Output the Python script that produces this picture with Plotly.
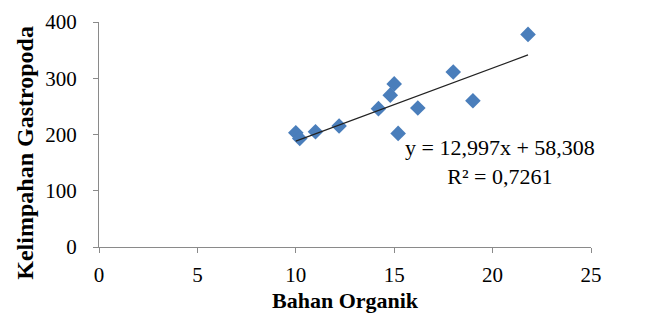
import plotly.graph_objects as go

# Data
bahan_organik = [10.0, 10.2, 11.0, 12.2, 14.2, 14.8, 15.0, 15.2, 16.2, 18.0, 19.0, 21.8]
kelimpahan = [203, 193, 205, 215, 246, 270, 290, 202, 247, 311, 260, 378]

slope = 12.997
intercept = 58.308
r_squared = 0.7261

x_ticks = [0, 5, 10, 15, 20, 25]
y_ticks = [0, 100, 200, 300, 400]

FONT = "Liberation Serif, Times New Roman, serif"
AXIS_COLOR = "#8a8a8a"

x_line = [min(bahan_organik), max(bahan_organik)]
y_line = [slope * v + intercept for v in x_line]

fig = go.Figure()
fig.add_trace(go.Scatter(
    x=bahan_organik, y=kelimpahan, mode="markers",
    marker=dict(symbol="diamond", size=12, color="#4A7EBB", line=dict(width=0)),
    showlegend=False, cliponaxis=False,
))
fig.add_trace(go.Scatter(
    x=x_line, y=y_line, mode="lines",
    line=dict(color="#222222", width=1.2),
    showlegend=False,
))

fig.add_annotation(
    x=20.4, y=152, xref="x", yref="y", showarrow=False,
    text="y = 12,997x + 58,308<br>R² = 0,7261",
    font=dict(family=FONT, size=22, color="black"),
    align="center", xanchor="center", yanchor="middle",
)
fig.add_annotation(
    x=-0.152, y=0.42, xref="paper", yref="paper", showarrow=False,
    text="<b>Kelimpahan Gastropoda</b>", textangle=-90,
    font=dict(family=FONT, size=24, color="black"),
    xanchor="center", yanchor="middle",
)
fig.add_annotation(
    x=0.5, y=-0.236, xref="paper", yref="paper", showarrow=False,
    text="<b>Bahan Organik</b>",
    font=dict(family=FONT, size=22, color="black"),
    xanchor="center", yanchor="middle",
)

fig.update_layout(
    width=646, height=322,
    margin=dict(l=99, r=55, t=22, b=75),
    paper_bgcolor="white", plot_bgcolor="white",
    font=dict(family=FONT, size=21, color="black"),
    xaxis=dict(
        range=[0, 25], tickvals=x_ticks, showgrid=False, zeroline=False,
        showline=True, linecolor=AXIS_COLOR, linewidth=1,
        ticks="outside", ticklen=5, tickcolor=AXIS_COLOR, tickwidth=1,
        tickfont=dict(family=FONT, size=21, color="black"),
        ticklabelstandoff=4, automargin=False,
    ),
    yaxis=dict(
        range=[0, 400], tickvals=y_ticks, showgrid=False, zeroline=False,
        showline=True, linecolor=AXIS_COLOR, linewidth=1,
        ticks="outside", ticklen=5, tickcolor=AXIS_COLOR, tickwidth=1,
        tickfont=dict(family=FONT, size=21, color="black"),
        ticklabelstandoff=12, automargin=False,
    ),
)

fig.write_html(
    "out.html",
    config={"displayModeBar": False},
    post_script="document.body.style.margin='0';document.body.style.overflow='hidden';",
)
